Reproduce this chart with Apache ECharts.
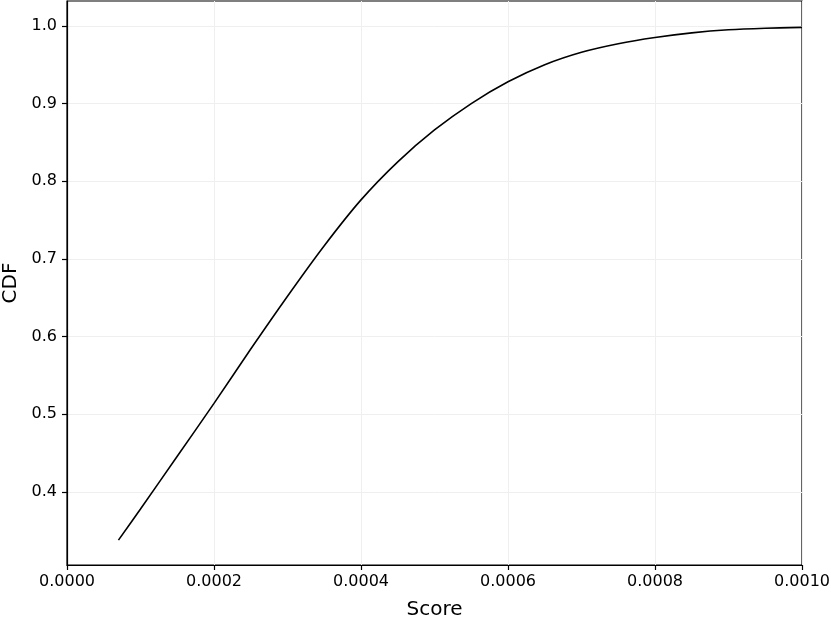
<!DOCTYPE html>
<html>
<head>
<meta charset="utf-8">
<script src="https://cdn.jsdelivr.net/npm/echarts@6/dist/echarts.min.js"></script>
<style>html,body{margin:0;padding:0;background:#fff;}#c{width:831px;height:622px;}</style>
</head>
<body>
<div id="c"></div>
<script>
const scores = [0.00007, 0.0001, 0.00015, 0.0002, 0.00025, 0.0003, 0.00035, 0.0004, 0.00045, 0.0005, 0.00055, 0.0006, 0.00065, 0.0007, 0.00075, 0.0008, 0.00085, 0.0009, 0.00095, 0.001];
const cdf = [0.338, 0.378, 0.446, 0.514, 0.584, 0.652, 0.717, 0.776, 0.825, 0.866, 0.900, 0.928, 0.950, 0.966, 0.977, 0.985, 0.991, 0.995, 0.997, 0.998];
const yTicks = [0.4, 0.5, 0.6, 0.7, 0.8, 0.9, 1.0];
const xTitle = 'Score';
const yTitle = 'CDF';

const chart = echarts.init(document.getElementById('c'), null, {renderer: 'canvas'});
const font = 'DejaVu Sans';
chart.setOption({
  animation: false,
  backgroundColor: '#ffffff',
  grid: {left: 67, right: 29, top: 1, bottom: 57, containLabel: false, outerBoundsMode: 'none',
         show: true, borderColor: '#000', borderWidth: 1.2, backgroundColor: 'transparent'},
  xAxis: {
    type: 'value', min: 0, max: 0.001, interval: 0.0002,
    name: xTitle, nameLocation: 'middle', nameGap: 35,
    nameTextStyle: {fontFamily: font, fontSize: 20, color: '#000'},
    axisLine: {show: true, onZero: false, lineStyle: {color: '#000', width: 1.2}},
    axisTick: {show: true, inside: false, length: 5, lineStyle: {color: '#000', width: 1.2}},
    axisLabel: {fontFamily: font, fontSize: 16, color: '#000', margin: 9, formatter: v => v.toFixed(4)},
    splitLine: {show: true, lineStyle: {color: '#efefef', width: 1}}
  },
  yAxis: {
    type: 'value', min: 0.306, max: 1.032, splitNumber: 7,
    name: yTitle, nameLocation: 'middle', nameGap: 46, nameRotate: 90,
    nameTextStyle: {fontFamily: font, fontSize: 20, color: '#000'},
    axisLine: {show: true, onZero: false, lineStyle: {color: '#000', width: 1.2}},
    axisTick: {show: true, length: 5, lineStyle: {color: '#000', width: 1.2}, customValues: yTicks},
    axisLabel: {fontFamily: font, fontSize: 16, color: '#000', margin: 10, customValues: yTicks, formatter: v => v.toFixed(1)},
    splitLine: {show: true, lineStyle: {color: '#efefef', width: 1}}
  },
  series: [{
    type: 'line',
    data: scores.map((s, i) => [s, cdf[i]]),
    smooth: 0.3,
    showSymbol: false,
    lineStyle: {color: '#000', width: 1.6},
    z: 5
  }]
});
</script>
</body>
</html>
